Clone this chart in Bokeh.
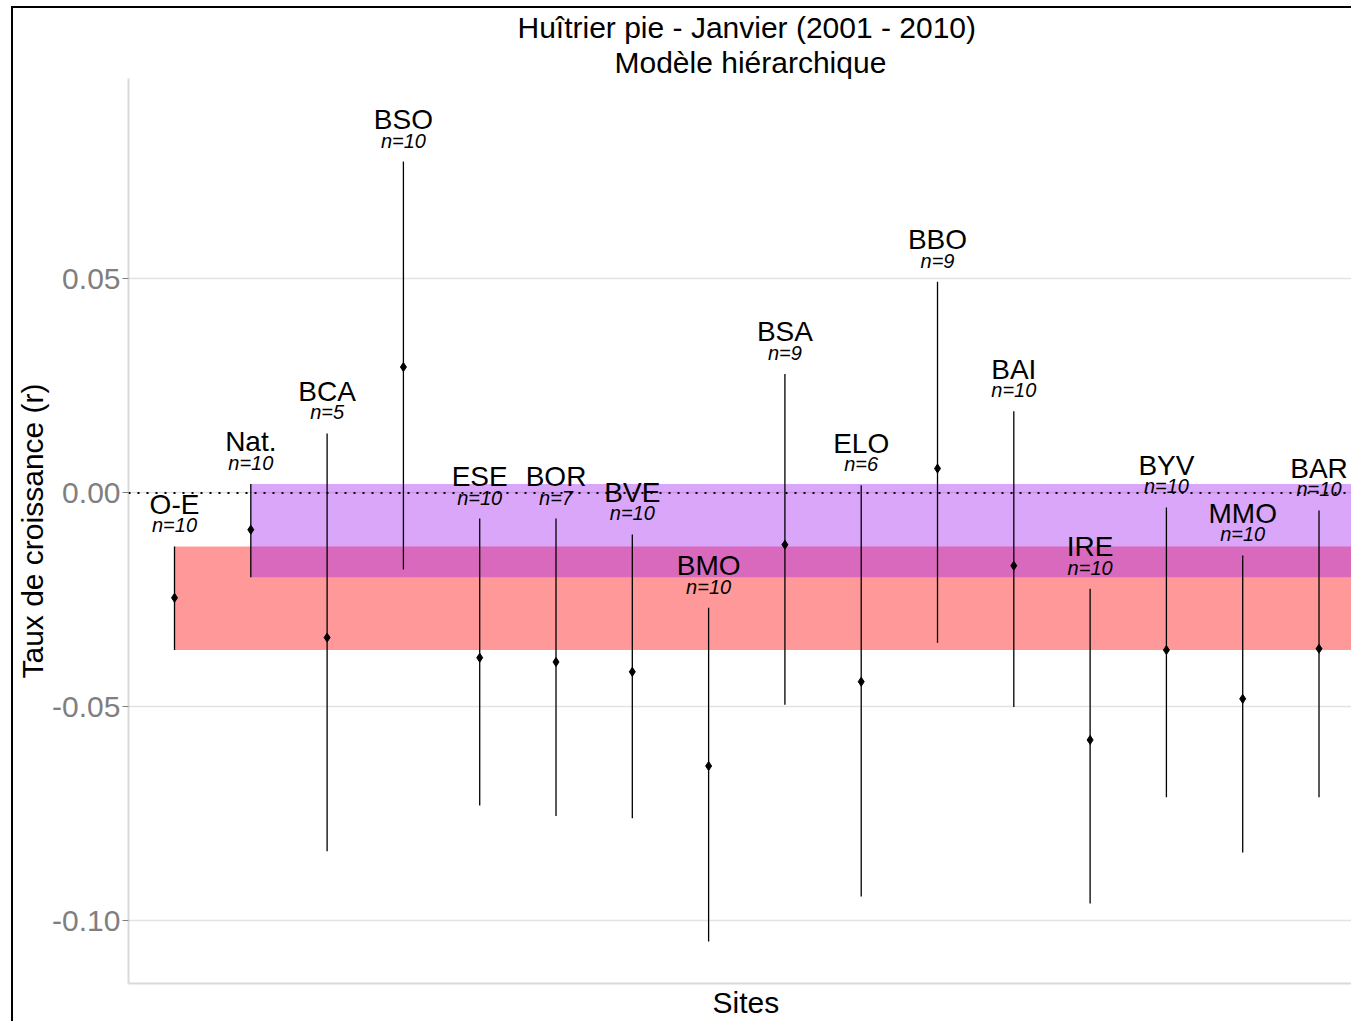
from bokeh.plotting import figure
from bokeh.models import Range1d, FixedTicker, PrintfTickFormatter, Span, Title, ColumnDataSource
from bokeh.core.properties import value
from bokeh.embed import file_html
from bokeh.resources import INLINE

sites = ["O-E", "Nat.", "BCA", "BSO", "ESE", "BOR", "BVE", "BMO", "BSA", "ELO",
         "BBO", "BAI", "IRE", "BYV", "MMO", "BAR"]
n_years = [10, 10, 5, 10, 10, 7, 10, 10, 9, 6, 9, 10, 10, 10, 10, 10]
estimate = [-0.0245, -0.0086, -0.0338, 0.0294, -0.0385, -0.0395, -0.0418, -0.0638,
            -0.0121, -0.0441, 0.0057, -0.0170, -0.0577, -0.0367, -0.0481, -0.0364]
lower = [-0.0367, -0.0197, -0.0837, -0.0179, -0.0730, -0.0755, -0.0760, -0.1048,
         -0.0495, -0.0943, -0.0350, -0.0500, -0.0959, -0.0711, -0.0840, -0.0711]
upper = [-0.0125, 0.0021, 0.0139, 0.0774, -0.0060, -0.0060, -0.0097, -0.0268,
         0.0278, 0.0018, 0.0493, 0.0191, -0.0224, -0.0034, -0.0146, -0.0041]
y_ticks = [-0.10, -0.05, 0.00, 0.05]

FONT = "Liberation Sans"
xpos = list(range(1, len(sites) + 1))

p = figure(width=1340, height=1015, output_backend="svg", toolbar_location=None,
           title=None,
           x_range=Range1d(0.397, 16.452), y_range=Range1d(-0.1146, 0.0968),
           min_border_left=100, min_border_right=0, min_border_top=0, min_border_bottom=40)
p.styles = {"margin-left": "11px", "margin-top": "6px",
            "border-left": "2px solid black", "border-top": "2px solid black"}
p.outline_line_color = None
p.background_fill_color = "white"
p.border_fill_color = "white"

# bands (O-E and Nat. intervals extended to the right)
p.quad(left=[xpos[0]], right=[len(sites) + 2], bottom=[lower[0]], top=[upper[0]],
       fill_color="red", fill_alpha=0.4, line_color=None)
p.quad(left=[xpos[1]], right=[len(sites) + 2], bottom=[lower[1]], top=[upper[1]],
       fill_color="#A020F0", fill_alpha=0.4, line_color=None)

p.add_layout(Span(location=0, dimension="width", line_color="black",
                  line_dash="2 7", line_width=2))

src = ColumnDataSource(dict(x=xpos, est=estimate, lo=lower, hi=upper, site=sites,
                            n=["n=%d" % v for v in n_years]))
p.segment(x0="x", y0="lo", x1="x", y1="hi", source=src, line_color="black", line_width=1.3)
p.scatter(x="x", y="est", source=src, marker="diamond", size=9, color="black")

p.text(x="x", y="hi", text="site", source=src, y_offset=-42,
       text_align="center", text_baseline="alphabetic",
       text_font=value(FONT), text_font_size="28px", text_color="black")
p.text(x="x", y="hi", text="n", source=src, y_offset=-21,
       text_align="center", text_baseline="alphabetic",
       text_font=value(FONT), text_font_size="20px", text_font_style="italic",
       text_color="black")

# axes
p.xgrid.visible = False
p.ygrid.ticker = FixedTicker(ticks=y_ticks)
p.ygrid.grid_line_color = "#E3E3E3"
p.ygrid.grid_line_width = 1.5

yax = p.yaxis[0]
yax.ticker = FixedTicker(ticks=y_ticks)
yax.formatter = PrintfTickFormatter(format="%.2f")
yax.minor_tick_line_color = None
yax.major_tick_line_color = "#7F7F7F"
yax.major_tick_out = 6
yax.major_tick_in = 0
yax.axis_line_color = "#D9D9D9"
yax.axis_line_width = 2
yax.major_label_text_font = FONT
yax.major_label_text_font_size = "30px"
yax.major_label_text_color = "#7F7F7F"
yax.major_label_standoff = 2
yax.axis_label = "Taux de croissance (r)"
yax.axis_label_text_font = FONT
yax.axis_label_text_font_size = "30px"
yax.axis_label_text_font_style = "normal"
yax.axis_label_text_color = "black"
yax.axis_label_standoff = 0

xax = p.xaxis[0]
xax.ticker = FixedTicker(ticks=[])
xax.major_tick_line_color = None
xax.minor_tick_line_color = None
xax.major_label_standoff = 0
xax.axis_line_color = "#D9D9D9"
xax.axis_line_width = 2

t2 = Title(text="Modèle hiérarchique", align="left", text_font=FONT, text_color="black",
           text_font_size="30px", text_font_style="normal", offset=486, standoff=0)
t1 = Title(text="Huîtrier pie - Janvier (2001 - 2010)", align="left", text_font=FONT,
           text_color="black",
           text_font_size="30px", text_font_style="normal", offset=389, standoff=0)
p.add_layout(t2, "above")
p.add_layout(t1, "above")
tb = Title(text="Sites", align="left", text_font=FONT, text_font_size="30px",
           text_color="black", text_font_style="normal", offset=584, standoff=0)
p.add_layout(tb, "below")

open("out.html", "w").write(file_html(p, INLINE))
